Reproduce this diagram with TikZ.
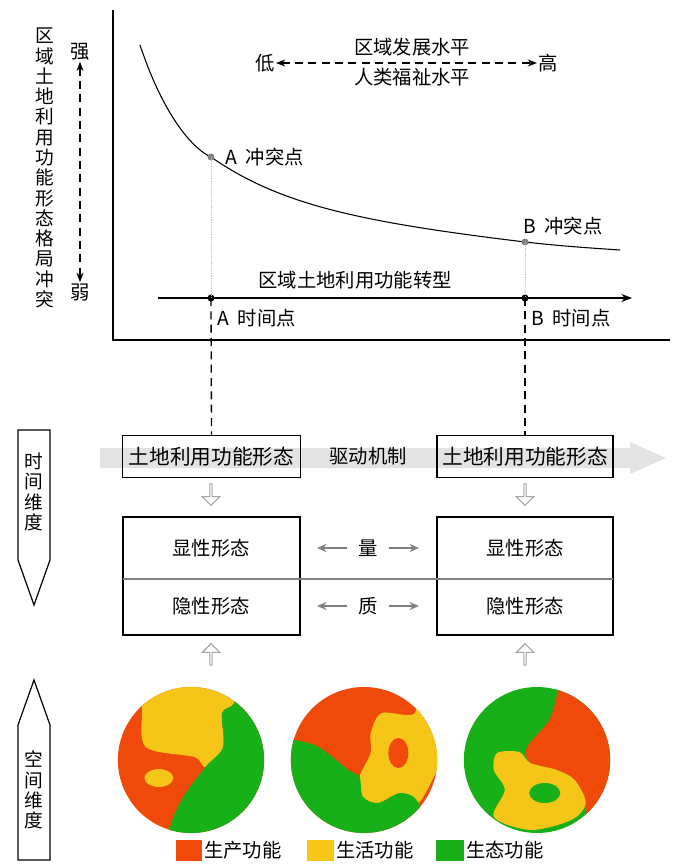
\documentclass[tikz,border=0pt]{standalone}
\usepackage{fontspec}
\setmainfont{Noto Sans CJK SC}
\usepackage{tikz}
\usetikzlibrary{shapes,arrows,arrows.meta}
\definecolor{prodred}{HTML}{F04A0A}
\definecolor{liveyel}{HTML}{F5C518}
\definecolor{ecogrn}{HTML}{18B018}
\tikzset{
  lbl/.style={inner sep=0.75pt,font=\fontsize{14.5}{16}\selectfont},
  boxlbl/.style={inner sep=0pt,font=\fontsize{15.5}{17}\selectfont},
  vlbl/.style={inner sep=0.75pt,align=center,font=\fontsize{14}{15.2}\selectfont},
  formbox/.style={draw,line width=0.9pt},
  longdash/.style={dash pattern=on 6pt off 4pt},
  hollow/.style={single arrow,draw=gray!70,fill=white,line width=0.8pt,minimum height=16,minimum width=13,single arrow head extend=2.5pt,inner sep=0pt},
  grayarr/.style={-{Stealth[length=7pt,width=6pt]},gray,line width=1.6pt},
}
\begin{document}
\begin{tikzpicture}[x=0.75pt,y=0.75pt,yscale=-1,xscale=1]
\useasboundingbox (0,0) rectangle (679,866);
% chart
\draw[line width=0.8pt] (113,10) -- (113,340) -- (670,340);
\draw[line width=0.8pt] (140,45) .. controls (165,120) and (195,150) .. (211,157)
  .. controls (280,205) and (360,222) .. (525,242) .. controls (560,246) and (590,248) .. (620,250);
\node[vlbl] (ytitle) at (45,168) {区\\域\\土\\地\\利\\用\\功\\能\\形\\态\\格\\局\\冲\\突};
\node[lbl] (strong) at (80,52) {强};
\node[lbl] (weak) at (80,292) {弱};
\draw[longdash,{Stealth[length=7pt]}-{Stealth[length=7pt]},line width=0.9pt] (strong) -- (weak);
\node[lbl] (low) at (265,63) {低};
\node[lbl] (high) at (548,63) {高};
\draw[longdash,{Stealth[length=7pt]}-{Stealth[length=7pt]},line width=1pt] (low) -- (high);
\node[lbl] (devlvl) at (412,47) {区域发展水平};
\node[lbl] (welfare) at (412,77) {人类福祉水平};
\fill[gray] (211,157) circle (3.5) coordinate (ptA);
\fill[gray] (525,242) circle (3.5) coordinate (ptB);
\node[lbl,anchor=west] (conflA) at (224,157) {A\ \ 冲突点};
\node[lbl,anchor=west] (conflB) at (522,226) {B\ \ 冲突点};
\draw[-{Stealth[length=8pt]},line width=1pt] (158,298) -- (632,298);
\node[lbl] (trans) at (355,280) {区域土地利用功能转型};
\fill (211,298) circle (3.5) coordinate (tA);
\fill (525,298) circle (3.5) coordinate (tB);
\draw[densely dotted,gray!50] (ptA) -- (tA);
\draw[densely dotted,gray!50] (ptB) -- (tB);
\node[lbl,anchor=west] (timeA) at (216,318) {A\ \ 时间点};
\node[lbl,anchor=west] (timeB) at (530,318) {B\ \ 时间点};
% time dimension
\draw[line width=0.9pt] (18,430) -- (50,430) -- (50,560) -- (34,605) -- (18,560) -- cycle;
\node[vlbl] (timedim) at (34,492) {时\\间\\维\\度};
\fill[gray!22] (100,448) -- (630,448) -- (630,442) -- (666,458) -- (630,474) -- (630,468) -- (100,468) -- cycle;
\node[formbox,boxlbl,minimum width=133,minimum height=32] (formA) at (211.5,456.5) {土地利用功能形态};
\node[formbox,boxlbl,minimum width=132,minimum height=32] (formB) at (525,456.5) {土地利用功能形态};
\node[lbl] (drive) at (368,456) {驱动机制};
\draw[longdash,line width=1pt] (tA) -- (formA.north);
\draw[longdash,line width=1pt] (tB) -- (formB.north);
\node[hollow,rotate=-90] (dnA) at (211,494) {};
\node[hollow,rotate=-90] (dnB) at (525,494) {};
\draw[formbox] (123,517) rectangle (300,635);
\draw[formbox] (437,517) rectangle (613,635);
\draw[gray,line width=1.2pt] (123,579) -- (613,579);
\node[lbl] (expA) at (211,548) {显性形态};
\node[lbl] (expB) at (525,548) {显性形态};
\node[lbl] (impA) at (211,606) {隐性形态};
\node[lbl] (impB) at (525,606) {隐性形态};
\node[lbl] (qty) at (368,548) {量};
\node[lbl] (qual) at (368,606) {质};
\draw[grayarr] (qty.west) ++(-10,0) -- ++(-30,0);
\draw[grayarr] (qty.east) ++(10,0) -- ++(30,0);
\draw[grayarr] (qual.west) ++(-10,0) -- ++(-30,0);
\draw[grayarr] (qual.east) ++(10,0) -- ++(30,0);
\node[hollow,rotate=90] (upA) at (211,655) {};
\node[hollow,rotate=90] (upB) at (525,655) {};
% space dimension
\draw[line width=0.9pt] (34,680) -- (50,725) -- (50,860) -- (18,860) -- (18,725) -- cycle;
\node[vlbl] (spacedim) at (34,790) {空\\间\\维\\度};
% circles
\begin{scope}[shift={(191,760)},xscale=1.108]
  \clip (0,0) ellipse (66 and 73);
  \fill[prodred] (-70,-80) rectangle (70,80);
  \fill[liveyel] plot[smooth cycle] coordinates {(-44,-90) (-44,-53) (-41,-13) (3,-3) (13,7) (29,-13) (28,-47) (39,-57) (45,-90)};
  \fill[ecogrn] plot[smooth cycle] coordinates {(45,-90) (39,-57) (28,-47) (29,-13) (13,7) (-7,37) (-19,67) (-19,95) (90,95) (90,-90)};
  \fill[liveyel] (-29,18) ellipse (13 and 9);
\end{scope}
\begin{scope}[shift={(364,760)},xscale=1.108]
  \clip (0,0) ellipse (66 and 73);
  \fill[prodred] (-70,-80) rectangle (70,80);
  \fill[liveyel] plot[smooth cycle] coordinates {(46,-90) (46,-47) (16,-47) (6,-27) (6,-7) (-4,17) (-1,37) (13,43) (33,33) (49,43) (66,10) (90,-47)};
  \fill[ecogrn] plot[smooth cycle] coordinates {(-95,-20) (-64,-20) (-41,-13) (-14,10) (-4,17) (-1,37) (13,43) (33,33) (49,43) (60,95) (-95,95)};
  \fill[prodred] (31,-7) ellipse (9 and 15);
\end{scope}
\begin{scope}[shift={(537,760)},xscale=1.108]
  \clip (0,0) ellipse (66 and 73);
  \fill[ecogrn] (-70,-80) rectangle (70,80);
  \fill[prodred] plot[smooth cycle] coordinates {(22,-95) (19,-70) (11,-40) (-9,-13) (-6,3) (18,10) (34,20) (44,50) (52,95) (95,95) (95,-95)};
  \fill[liveyel] plot[smooth cycle] coordinates {(-16,-8) (-36,-7) (-39,10) (-29,30) (-39,57) (-6,70) (31,60) (44,43) (34,20) (18,10) (-6,3)};
  \fill[ecogrn] (7,33) ellipse (14 and 10);
\end{scope}
% legend
\fill[prodred] (176,840) rectangle (202,861);
\node[lbl,anchor=west] (legP) at (203,850) {生产功能};
\fill[liveyel] (307,840) rectangle (334,861);
\node[lbl,anchor=west] (legL) at (335,850) {生活功能};
\fill[ecogrn] (436,840) rectangle (464,861);
\node[lbl,anchor=west] (legE) at (465,850) {生态功能};
\end{tikzpicture}
\end{document}
